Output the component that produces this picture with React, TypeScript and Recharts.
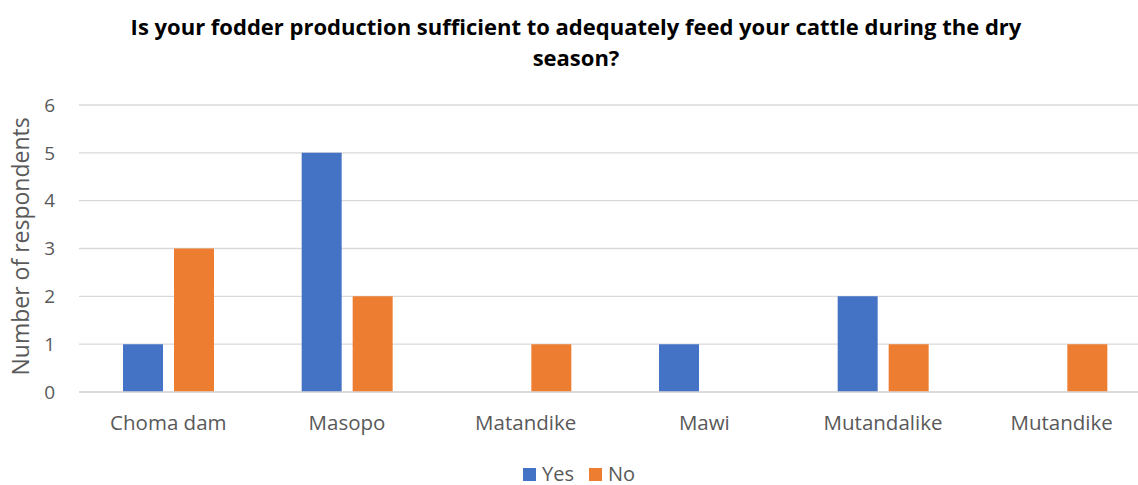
import React from "react";
import { BarChart, Bar, XAxis, YAxis, CartesianGrid } from "recharts";

const villages = ["Choma dam", "Masopo", "Matandike", "Mawi", "Mutandalike", "Mutandike"];
const yesCounts = [1, 5, 0, 1, 2, 0];
const noCounts = [3, 2, 1, 0, 1, 1];
const yTicks = [0, 1, 2, 3, 4, 5, 6];

const data = villages.map((name, i) => ({ name, Yes: yesCounts[i], No: noCounts[i] }));

const FONT = "Open Sans, Liberation Sans, sans-serif";
const GREY = "#595959";
const BLUE = "#4472C4";
const ORANGE = "#ED7D31";

export default function App() {
  return (
    <div
      style={{
        position: "absolute",
        left: 0,
        top: 0,
        width: 1138,
        height: 485,
        background: "#fff",
        fontFamily: FONT,
      }}
    >
      <div
        style={{
          position: "absolute",
          left: 0,
          top: 11,
          width: 1152,
          textAlign: "center",
          fontWeight: 700,
          fontSize: 22,
          lineHeight: "31px",
          color: "#000",
        }}
      >
        Is your fodder production sufficient to adequately feed your cattle during the dry
        <br />
        season?
      </div>
      <div style={{ position: "absolute", left: 0, top: 0 }}>
        {/* plot area runs past the right edge; the svg clips the gridlines there */}
        <BarChart
          width={1138}
          height={485}
          data={data}
          margin={{ top: 105, right: -13, bottom: 63, left: 0 }}
          barSize={40}
          barGap={11}
        >
          <CartesianGrid vertical={false} stroke="#d9d9d9" strokeWidth={1.3} />
          <XAxis
            dataKey="name"
            height={30}
            axisLine={{ stroke: "#d9d9d9", strokeWidth: 1.3 }}
            tickLine={false}
            tick={{ fill: GREY, fontSize: 20.5, fontFamily: FONT }}
            tickMargin={17}
            interval={0}
          />
          <YAxis
            width={79}
            domain={[0, 6]}
            ticks={yTicks}
            axisLine={false}
            tickLine={false}
            tick={{ fill: GREY, fontSize: 19, fontFamily: FONT }}
            tickMargin={18}
            label={{
              value: "Number of respondents",
              angle: -90,
              position: "insideLeft",
              dx: 16,
              dy: 127,
              style: { fill: GREY, fontSize: 23, fontFamily: FONT },
            }}
          />
          <Bar dataKey="Yes" fill={BLUE} isAnimationActive={false} />
          <Bar dataKey="No" fill={ORANGE} isAnimationActive={false} />
        </BarChart>
      </div>
      <div
        style={{
          position: "absolute",
          left: 523,
          top: 465,
          display: "flex",
          alignItems: "center",
          fontSize: 20,
          color: GREY,
          lineHeight: "18px",
        }}
      >
        <span style={{ width: 13, height: 13, background: BLUE, display: "inline-block", marginRight: 6 }} />
        <span style={{ marginRight: 15 }}>Yes</span>
        <span style={{ width: 13, height: 13, background: ORANGE, display: "inline-block", marginRight: 6 }} />
        <span>No</span>
      </div>
    </div>
  );
}
